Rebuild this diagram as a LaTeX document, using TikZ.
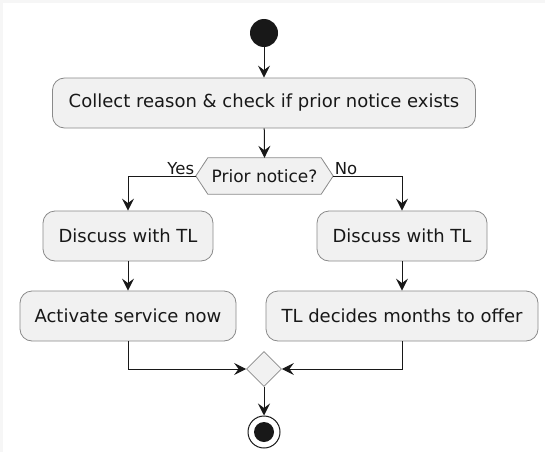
\documentclass[tikz,border=0pt]{standalone}
\usepackage{fontspec}
\setmainfont{DejaVu Sans}
\usetikzlibrary{arrows.meta,shapes.geometric}
\definecolor{boxfill}{HTML}{F1F1F1}
\definecolor{boxline}{HTML}{8A8A8A}
\definecolor{ink}{HTML}{181818}
\definecolor{edgegray}{HTML}{F6F6F6}
\pgfdeclarelayer{bg}
\pgfsetlayers{bg,main}
\begin{document}
\begin{tikzpicture}[x=1pt,y=-1pt,
  act/.style={draw=boxline,fill=boxfill,rounded corners=12pt,line width=0.8pt,
    minimum height=50pt,inner xsep=14pt,font=\fontsize{18}{21}\selectfont,text=ink},
  flow/.style={draw=ink,line width=1pt,-{Stealth[length=12pt,width=12pt,inset=4.5pt]}},
  lbl/.style={font=\fontsize{16.5}{19}\selectfont,text=ink,inner sep=1.5pt}]
\useasboundingbox (0,0) rectangle (545,452);
\begin{pgfonlayer}{bg}
\fill[edgegray] (0,0) rectangle (545,452);
\fill[white] (3,3) rectangle (545,452);
\end{pgfonlayer}
\node[circle,fill=ink,minimum size=28pt,inner sep=0] (start) at (264,33) {};
\node[act,minimum width=423pt] (collect) at (264,103) {Collect reason \& check if prior notice exists};
\node[minimum width=137pt,minimum height=36pt,inner sep=0,font=\fontsize{17}{20}\selectfont,text=ink] (dec) at (264.5,176) {Prior notice?};
\begin{pgfonlayer}{bg}
\draw[boxline,fill=boxfill,line width=0.8pt] (dec.west) -- ([xshift=12pt]dec.north west) -- ([xshift=-12pt]dec.north east) -- (dec.east) -- ([xshift=-12pt]dec.south east) -- ([xshift=12pt]dec.south west) -- cycle;
\end{pgfonlayer}
\node[act,minimum width=170pt] (d1) at (128,236) {Discuss with TL};
\node[act,minimum width=216pt] (a1) at (128,316) {Activate service now};
\node[act,minimum width=170pt] (d2) at (402,236) {Discuss with TL};
\node[act,minimum width=272pt] (a2) at (402,316) {TL decides months to offer};
\node[diamond,draw=boxline,fill=boxfill,line width=0.8pt,minimum size=35pt,inner sep=0] (merge) at (264,369) {};
\node[circle,draw=ink,line width=1pt,fill=white,minimum size=32pt,inner sep=0] (stop) at (264,432) {};
\node[circle,fill=ink,minimum size=20pt,inner sep=0] (stopin) at (264,432) {};
\draw[flow] (start) -- (collect);
\draw[flow] (collect) -- (dec.north);
\draw[flow] (dec.west) -| (d1.north);
\draw[flow] (dec.east) -| (d2.north);
\node[lbl,anchor=south east] (yes) at (dec.west) {Yes};
\node[lbl,anchor=south west] (no) at (dec.east) {No};
\draw[flow] (d1) -- (a1);
\draw[flow] (d2) -- (a2);
\draw[flow] (a1.south) |- (merge.west);
\draw[flow] (a2.south) |- (merge.east);
\draw[flow] (merge) -- (stop);
\end{tikzpicture}
\end{document}
